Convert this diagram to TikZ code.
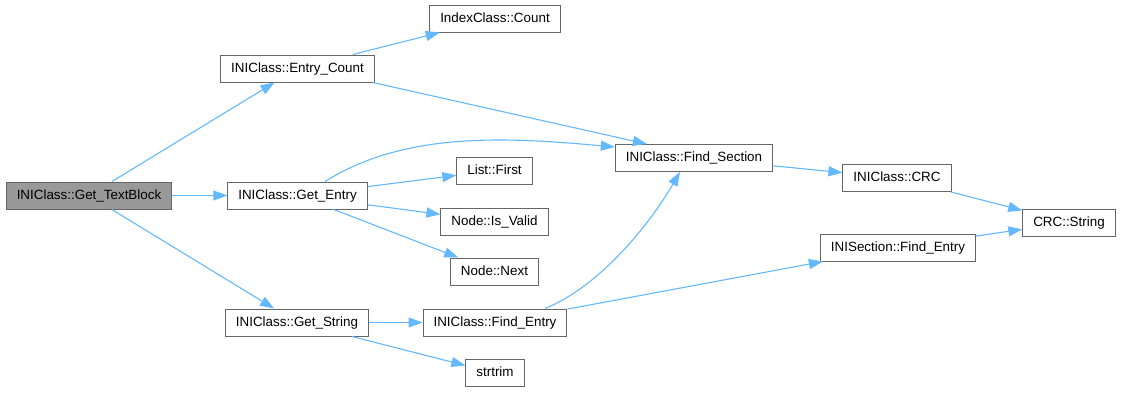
\documentclass[tikz,border=0pt]{standalone}
\usepackage{fontspec}
\setmainfont{Liberation Sans}
\usepackage{xcolor}
\usepackage{tikz}
\usetikzlibrary{shapes.geometric, arrows.meta}
\definecolor{edgeblue}{HTML}{63B8FF}
\definecolor{boxgray}{HTML}{666666}
\definecolor{rootgray}{HTML}{999999}
\tikzstyle{callee} = [rectangle, draw=boxgray, line width=1pt, text centered, minimum height=27pt, inner xsep=10.5pt, text height=9.5pt, text depth=2.5pt, font=\fontsize{13.4}{15}\selectfont]
\tikzstyle{caller} = [callee, fill=rootgray]
\tikzstyle{arrow} = [line width=1.1pt, draw=edgeblue, -{Triangle[length=14pt,width=10pt,fill=edgeblue]}]

\begin{document}
\begin{tikzpicture}[x=1pt, y=1pt, node distance=127pt]
\useasboundingbox (-89,-196.5) rectangle (1033,195.5);
\node [caller] at (0,0) (get_textblock) {INIClass::Get\_TextBlock};
\node [callee, right of=get_textblock, xshift=81.5pt] (get_entry) {INIClass::Get\_Entry};
\node [callee, above of=get_entry] (entry_count) {INIClass::Entry\_Count};
\node [callee, below of=get_entry, xshift=-0.5pt] (get_string) {INIClass::Get\_String};
\node [callee, right of=entry_count, xshift=70.5pt, yshift=50pt] (index_count) {IndexClass::Count};
\node [callee, right of=get_entry, xshift=70pt, yshift=25pt] (list_first) {List::First};
\node [callee, right of=get_entry, xshift=70pt, yshift=-26pt] (is_valid) {Node::Is\_Valid};
\node [callee, right of=get_entry, xshift=70pt, yshift=-76pt] (node_next) {Node::Next};
\node [callee, right of=get_string, xshift=71pt] (ini_find_entry) {INIClass::Find\_Entry};
\node [callee, below of=ini_find_entry, yshift=76.5pt] (strtrim) {strtrim};
\node [callee, right of=get_entry, xshift=269.5pt, yshift=37.5pt] (find_section)
	{INIClass::Find\_Section};
\node [callee, right of=find_section, xshift=76pt, yshift=-20pt] (ini_crc) {INIClass::CRC};
\node [callee, below of=ini_crc, xshift=1pt, yshift=57.5pt] (sec_find_entry)
	{INISection::Find\_Entry};
\node [callee, right of=ini_crc, xshift=45pt, yshift=-44.5pt] (crc_string) {CRC::String};
\draw [arrow] (get_textblock) -- (entry_count);
\draw [arrow] (get_textblock) -- (get_entry);
\draw [arrow] (get_textblock) -- (get_string);
\draw [arrow] (entry_count) -- (index_count);
\draw [arrow] ([xshift=-2pt]entry_count.south east) -- ([xshift=32pt]find_section.north west);
\draw [arrow] ([xshift=27.5pt]get_entry.north) .. controls +(80,50) and +(-110,10)
	.. ([yshift=11pt]find_section.west);
\draw [arrow] (get_entry) -- (list_first);
\draw [arrow] (get_entry) -- (is_valid);
\draw [arrow] (get_entry) -- (node_next);
\draw [arrow] (get_string) -- (ini_find_entry);
\draw [arrow] (get_string) -- (strtrim);
\draw [arrow] ([xshift=50pt]ini_find_entry.north) .. controls +(50,20) and +(-35,-60)
	.. ([xshift=-14pt]find_section.south);
\draw [arrow] (ini_find_entry) -- (sec_find_entry);
\draw [arrow] (find_section) -- (ini_crc);
\draw [arrow] (ini_crc) -- (crc_string);
\draw [arrow] (sec_find_entry) -- (crc_string);
\end{tikzpicture}
\end{document}
